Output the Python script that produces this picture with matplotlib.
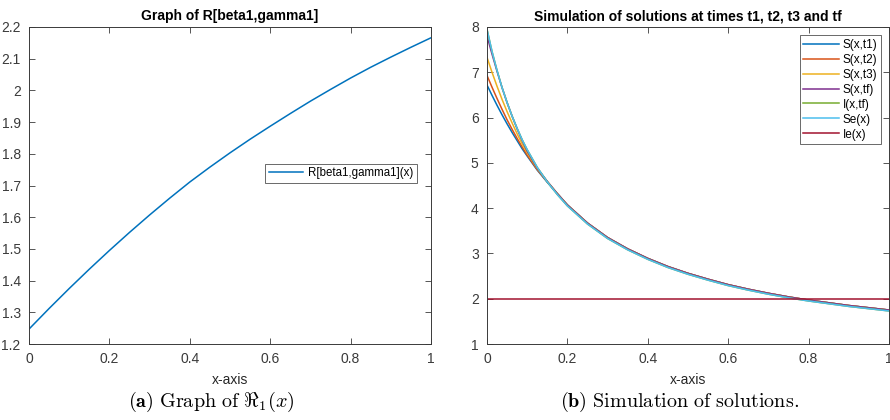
import numpy as np
import matplotlib.pyplot as plt

# left panel: R[beta1,gamma1](x)
x_r = [0, 0.05, 0.1, 0.15, 0.2, 0.25, 0.3, 0.35, 0.4, 0.45, 0.5,
       0.55, 0.6, 0.65, 0.7, 0.75, 0.8, 0.85, 0.9, 0.95, 1.0]
r_vals = [1.247, 1.312, 1.375, 1.436, 1.495, 1.552, 1.607, 1.660, 1.711, 1.758, 1.803,
          1.846, 1.887, 1.927, 1.966, 2.003, 2.039, 2.073, 2.105, 2.136, 2.166]

# right panel: solutions
x_s = [0, 0.0125, 0.025, 0.0375, 0.05, 0.0625, 0.075, 0.0875, 0.1, 0.125, 0.15,
       0.175, 0.2, 0.25, 0.3, 0.35, 0.4, 0.45, 0.5, 0.55, 0.6, 0.65, 0.7, 0.75,
       0.8, 0.85, 0.9, 0.95, 1.0]
tail_s = [4.32, 4.07, 3.67, 3.35, 3.10, 2.89, 2.71, 2.56, 2.43, 2.31, 2.21, 2.12,
          2.04, 1.97, 1.91, 1.85, 1.80, 1.75]
tail_e = [4.30, 4.05, 3.65, 3.33, 3.08, 2.87, 2.69, 2.54, 2.41, 2.29, 2.19, 2.10,
          2.02, 1.95, 1.89, 1.83, 1.78, 1.73]
s_t1 = [6.72, 6.49, 6.27, 6.06, 5.86, 5.67, 5.49, 5.31, 5.15, 4.84, 4.57] + tail_s
s_t2 = [6.93, 6.67, 6.42, 6.18, 5.95, 5.74, 5.54, 5.35, 5.17, 4.85, 4.58] + tail_s
s_t3 = [7.33, 7.00, 6.69, 6.40, 6.13, 5.88, 5.64, 5.42, 5.22, 4.87, 4.59] + tail_s
s_tf = [7.80, 7.40, 7.02, 6.66, 6.33, 6.03, 5.75, 5.49, 5.26, 4.88, 4.59] + tail_s
i_tf = [7.95, 7.46, 7.04, 6.66, 6.33, 6.03, 5.76, 5.51, 5.29, 4.90, 4.58] + tail_e
se_x = [7.95, 7.46, 7.04, 6.66, 6.33, 6.03, 5.76, 5.51, 5.29, 4.90, 4.58] + tail_e
ie_x = [2.0] * len(x_s)
labels = ["S(x,t1)", "S(x,t2)", "S(x,t3)", "S(x,tf)", "I(x,tf)", "Se(x)", "Ie(x)"]

colors = ["#0072BD", "#D95319", "#EDB120", "#7E2F8E", "#77AC30", "#4DBEEE", "#A2142F"]
gray = "#262626"

plt.rcParams['font.family'] = ['Liberation Sans', 'DejaVu Sans']
plt.rcParams['mathtext.fontset'] = 'cm'

fig = plt.figure(figsize=(8.9, 4.2), dpi=100)
ax1 = fig.add_axes([29/890, 76/420, 402/890, 317/420])
ax2 = fig.add_axes([487/890, 76/420, 402/890, 317/420])


def style(ax):
    for s in ax.spines.values():
        s.set_color("#3a3a3a")
        s.set_linewidth(0.7)
    ax.tick_params(direction='in', length=4, width=0.6, colors="#3a3a3a",
                   labelsize=10, top=True, right=True, pad=6)
    ax.set_xlim(0, 1)
    ax.set_xticks([0, 0.2, 0.4, 0.6, 0.8, 1])
    ax.set_xticklabels(["0", "0.2", "0.4", "0.6", "0.8", "1"])
    ax.set_xlabel("x-axis", fontsize=10, color=gray, labelpad=5)


ax1.plot(x_r, r_vals, color=colors[0], lw=1.1, label="R[beta1,gamma1](x)")
style(ax1)
ax1.set_ylim(1.2, 2.2)
yt = np.round(np.arange(1.2, 2.21, 0.1), 1)
ax1.set_yticks(yt)
ax1.set_yticklabels(["%g" % v for v in yt])
ax1.set_title("Graph of R[beta1,gamma1]", fontsize=10, fontweight='bold', pad=5)
leg1 = ax1.legend(loc='center', bbox_to_anchor=(0.776, 0.539), fontsize=8.3,
                  handlelength=3.0, handletextpad=0.4, fancybox=False,
                  borderpad=0.3, edgecolor=gray)
leg1.get_frame().set_linewidth(0.6)

series = [s_t1, s_t2, s_t3, s_tf, i_tf, se_x, ie_x]
for ys, c, lab in zip(series, colors, labels):
    ax2.plot(x_s, ys, color=c, lw=1.1, label=lab)
style(ax2)
ax2.set_ylim(1, 8)
ax2.set_yticks(range(1, 9))
ax2.set_title("Simulation of solutions at times t1, t2, t3 and tf", fontsize=10,
              fontweight='bold', pad=5)
leg2 = ax2.legend(loc='upper right', fontsize=8.5, handlelength=3.0, fancybox=False,
                  borderpad=0.3, labelspacing=0.25, handletextpad=0.3,
                  borderaxespad=0.7, edgecolor=gray)
leg2.get_frame().set_linewidth(0.6)

fig.text(211/890, 6/420, r"$\mathbf{(a)}\ \mathrm{Graph\ of}\ \Re_1(x)$",
         ha='center', va='bottom', fontsize=14.5)
fig.text(680/890, 6/420, r"$\mathbf{(b)}\ \mathrm{Simulation\ of\ solutions.}$",
         ha='center', va='bottom', fontsize=14.5)

fig.savefig("out.png", dpi=100)
